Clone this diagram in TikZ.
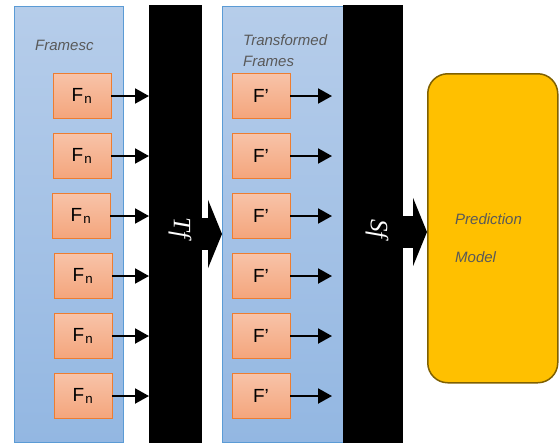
\documentclass[tikz,border=0pt]{standalone}
\usepackage{fontspec}
\setmainfont{Liberation Sans}
\newfontfamily\mapfont{Liberation Serif}
\usepackage{tikz}
\usetikzlibrary{arrows.meta, positioning}

\definecolor{panelTop}{HTML}{B6CDEA}
\definecolor{panelBottom}{HTML}{93B7E2}
\definecolor{panelLine}{HTML}{5B9BD5}
\definecolor{frameTop}{HTML}{F8C3A8}
\definecolor{frameBottom}{HTML}{F4A57C}
\definecolor{frameLine}{HTML}{ED7D31}
\definecolor{modelFill}{HTML}{FFC000}
\definecolor{modelLine}{HTML}{7F6000}
\definecolor{labelGray}{HTML}{595959}

\begin{document}
\begin{tikzpicture}[
    x=1pt, y=-1pt,
    node distance=14.2pt,
    panel/.style={draw=panelLine, top color=panelTop, bottom color=panelBottom, anchor=north west, inner sep=0pt, minimum height=436pt},
    bar/.style={fill=black, anchor=north west, inner sep=0pt, minimum height=438pt},
    frame/.style={draw=frameLine, thick, top color=frameTop, bottom color=frameBottom, minimum width=58pt, minimum height=45pt, inner sep=0pt, font=\fontsize{19}{22}\selectfont},
    label/.style={text=labelGray, font=\fontsize{15}{21}\selectfont\itshape, anchor=west, inner sep=0pt, align=left},
    map/.style={text=white, rotate=-90, font=\mapfont\itshape\fontsize{25}{25}\selectfont},
    arrow/.style={-{Triangle[length=14pt, width=15pt]}, line width=2pt},
    bigarrow/.style={-{Triangle[length=14pt, width=68pt]}, line width=32pt}
]
\useasboundingbox (0,0) rectangle (559,445);

% Panels and bars
\node[panel, minimum width=109pt] (framesc) at (14,6) {};
\node[bar, minimum width=53pt] (bar1) at (149,5) {};
\node[panel, minimum width=121pt] (trans) at (222,6) {};
\node[bar, minimum width=60pt] (bar2) at (343,5) {};
\node[draw=modelLine, line width=1.5pt, fill=modelFill, rounded corners=20pt, anchor=north west, minimum width=130pt, minimum height=309pt] (model) at (427,73) {};

% Labels
\node[label] (framesclabel) at (35,45) {Framesc};
\node[label] (translabel) at (243,51) {Transformed\\Frames};
\node[label] (modellabel) at (455,238) {Prediction\\[17pt]Model};
\node[map] (tf) at (180,228) {Tf};
\node[map] (sf) at (377,229) {Sf};

% Frames
\node[frame] (fn1) at (82,96) {F\kern1pt\textsubscript{n}};
\node[frame, below=of fn1] (fn2) {F\kern1pt\textsubscript{n}};
\node[frame, below=of fn2, xshift=-1pt] (fn3) {F\kern1pt\textsubscript{n}};
\node[frame, below=of fn3, xshift=2pt] (fn4) {F\kern1pt\textsubscript{n}};
\node[frame, below=of fn4] (fn5) {F\kern1pt\textsubscript{n}};
\node[frame, below=of fn5] (fn6) {F\kern1pt\textsubscript{n}};

\node[frame] (fp1) at (261,96) {F’};
\node[frame, below=of fp1] (fp2) {F’};
\node[frame, below=of fp2] (fp3) {F’};
\node[frame, below=of fp3] (fp4) {F’};
\node[frame, below=of fp4] (fp5) {F’};
\node[frame, below=of fp5] (fp6) {F’};

% Edges
\draw[arrow] (fn1.east) -- (fn1.east -| bar1.west);
\draw[arrow] (fn2.east) -- (fn2.east -| bar1.west);
\draw[arrow] (fn3.east) -- (fn3.east -| bar1.west);
\draw[arrow] (fn4.east) -- (fn4.east -| bar1.west);
\draw[arrow] (fn5.east) -- (fn5.east -| bar1.west);
\draw[arrow] (fn6.east) -- (fn6.east -| bar1.west);

\draw[arrow, shorten >=11pt] (fp1.east) -- (fp1.east -| bar2.west);
\draw[arrow, shorten >=11pt] (fp2.east) -- (fp2.east -| bar2.west);
\draw[arrow, shorten >=11pt] (fp3.east) -- (fp3.east -| bar2.west);
\draw[arrow, shorten >=11pt] (fp4.east) -- (fp4.east -| bar2.west);
\draw[arrow, shorten >=11pt] (fp5.east) -- (fp5.east -| bar2.west);
\draw[arrow, shorten >=11pt] (fp6.east) -- (fp6.east -| bar2.west);

\draw[bigarrow] (bar1.east |- 0,234) -- (trans.west |- 0,234);
\draw[bigarrow] (bar2.east |- 0,232) -- (model.west |- 0,232);

\end{tikzpicture}
\end{document}
